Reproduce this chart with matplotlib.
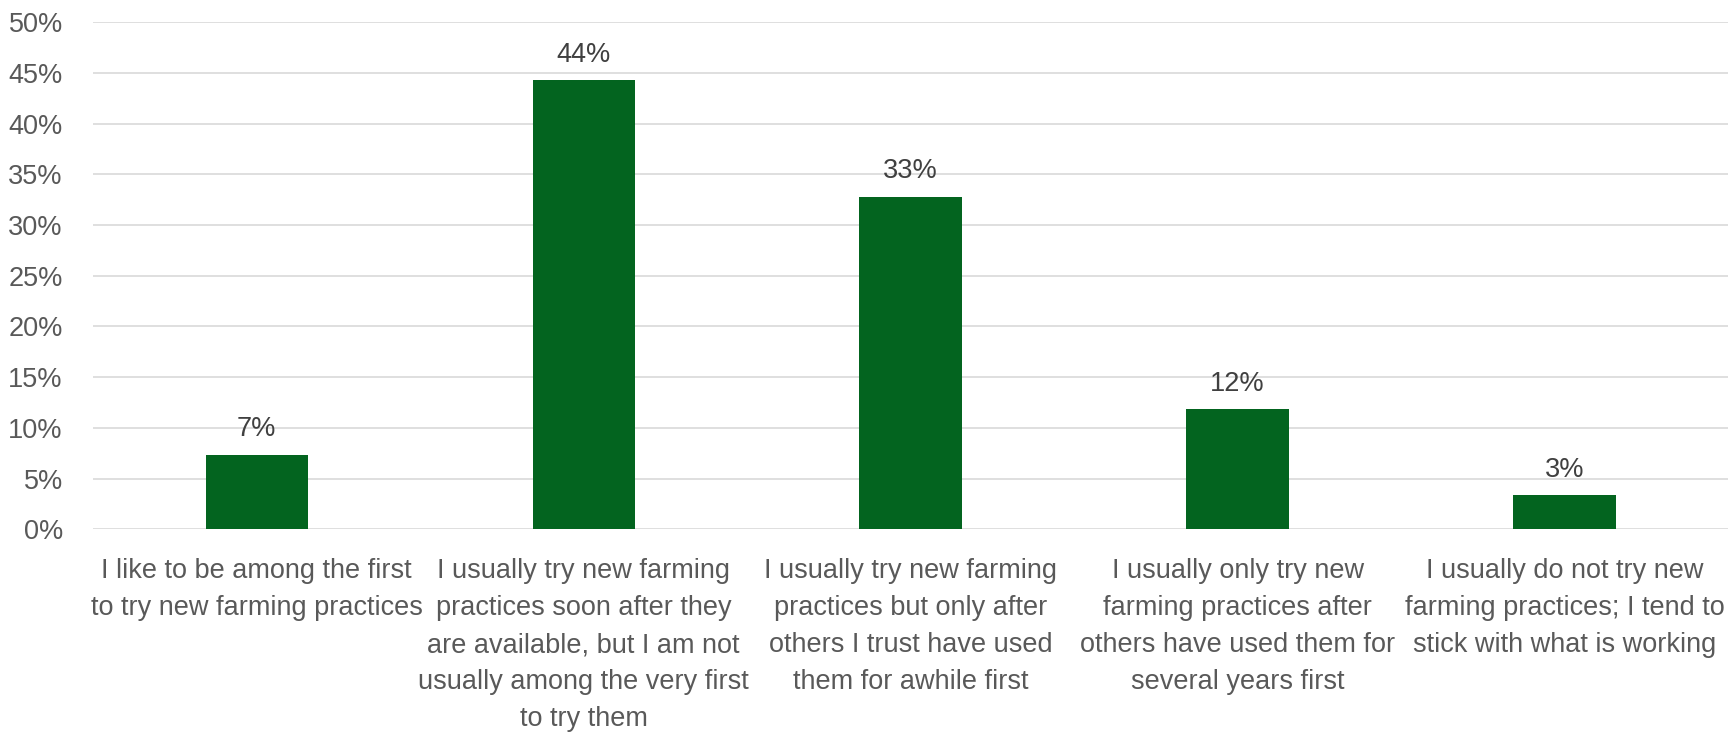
import matplotlib
matplotlib.use("Agg")
import matplotlib.pyplot as plt
from matplotlib.ticker import PercentFormatter

categories = [
    "I like to be among the first\nto try new farming practices",
    "I usually try new farming\npractices soon after they\nare available, but I am not\nusually among the very first\nto try them",
    "I usually try new farming\npractices but only after\nothers I trust have used\nthem for awhile first",
    "I usually only try new\nfarming practices after\nothers have used them for\nseveral years first",
    "I usually do not try new\nfarming practices; I tend to\nstick with what is working",
]
values = [7.35, 44.3, 32.8, 11.85, 3.36]
labels = ["7%", "44%", "33%", "12%", "3%"]
yticks = [0, 5, 10, 15, 20, 25, 30, 35, 40, 45, 50]

plt.rcParams['font.family'] = ['Liberation Sans', 'DejaVu Sans']

fig = plt.figure(figsize=(17.28, 7.33), dpi=100)
ax = fig.add_axes([0.054, 0.2779, 0.946, 0.6917])

x = range(len(categories))
bars = ax.bar(x, values, width=0.313, color='#03641F', zorder=3)

for b, lab in zip(bars, labels):
    ax.annotate(lab, (b.get_x() + b.get_width() / 2, b.get_height()),
                xytext=(0, 9), textcoords='offset points',
                ha='center', va='bottom', fontsize=19.5, color='#404040')

ax.set_xlim(-0.5, len(categories) - 0.5)
ax.set_ylim(0, 50)
ax.set_yticks(yticks)
ax.yaxis.set_major_formatter(PercentFormatter(decimals=0))
ax.set_xticks(list(x))
ax.set_xticklabels(categories, linespacing=1.55)

ax.grid(axis='y', color='#D9D9D9', linewidth=1.2, zorder=0)
for s in ax.spines.values():
    s.set_visible(False)
ax.tick_params(axis='both', length=0, labelsize=19.5, colors='#595959')
ax.tick_params(axis='y', pad=22)
ax.tick_params(axis='x', pad=21)

fig.savefig("out.png", dpi=100)
